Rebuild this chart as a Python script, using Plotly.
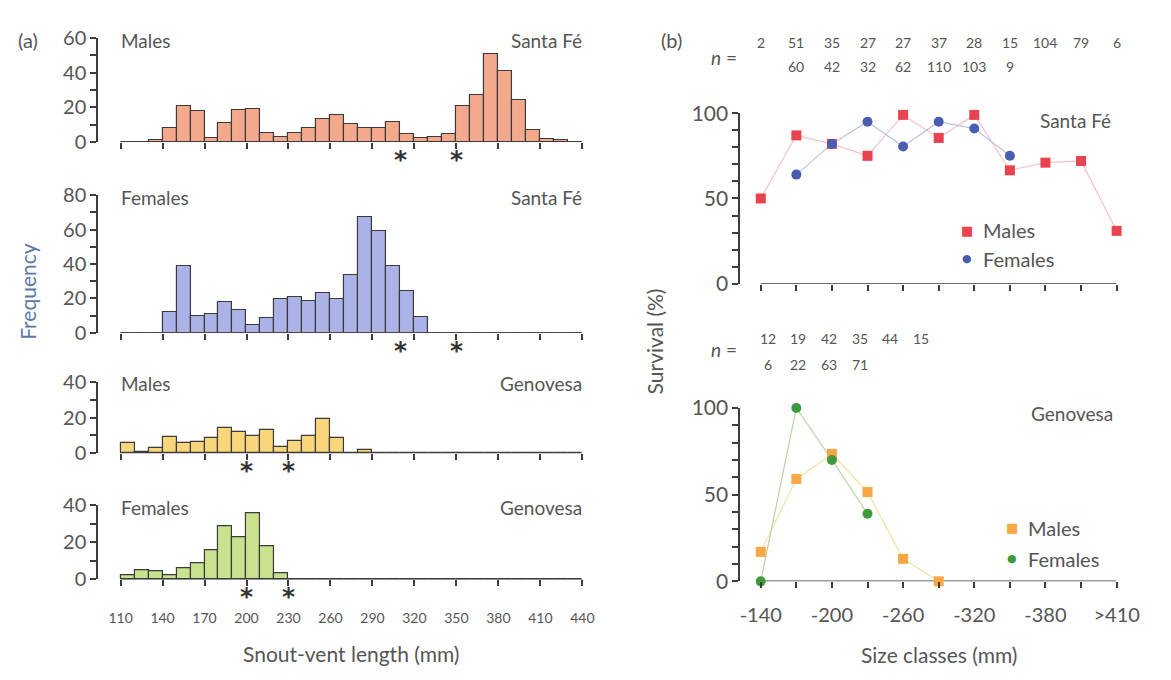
import plotly.graph_objects as go

W, H = 1171, 680

# ---------------- data ----------------
bin_starts = list(range(110, 440, 10))  # 10-mm bins, 110..430

males_sf = [0, 0, 1, 8, 21, 18, 2.5, 11, 18.5, 19, 5, 3, 5, 8, 13, 15.5, 10.5, 8, 8,
            11.5, 4.5, 2.5, 3, 4.5, 21, 27, 51, 41, 24.5, 7, 2, 1, 0]
females_sf = [0, 0, 0, 12, 39, 10, 11, 18, 13, 4.5, 8.5, 19.5, 20.5, 18.5, 23, 19.5,
              33.5, 67, 59, 39, 24.5, 9, 0, 0, 0, 0, 0, 0, 0, 0, 0, 0, 0]
males_gen = [6, 1, 3, 9, 6, 6.5, 8.5, 14, 12, 9.5, 13, 3.5, 7, 9.5, 19.5, 8.5, 0, 2,
             0, 0, 0, 0, 0, 0, 0, 0, 0, 0, 0, 0, 0, 0, 0]
females_gen = [2.5, 5, 4.5, 2, 6, 8.5, 16, 28.5, 22.5, 35.5, 18, 3.5, 0, 0, 0, 0, 0, 0,
               0, 0, 0, 0, 0, 0, 0, 0, 0, 0, 0, 0, 0, 0, 0]

svl_ticks = [110, 140, 170, 200, 230, 260, 290, 320, 350, 380, 410, 440]
asterisks_sf = [310, 350]
asterisks_gen = [200, 230]

size_classes = ['-140', '-170', '-200', '-230', '-260', '-290', '-320', '-350',
                '-380', '-410', '>410']
surv_sf_males = [50, 87, 82, 75, 99, 85.5, 99, 66.5, 71, 72, 31]
surv_sf_females = [None, 64, 82, 95, 80.5, 95, 91, 75, None, None, None]
surv_gen_males = [17, 59, 73.5, 51.5, 13, 0, None, None, None, None, None]
surv_gen_females = [0, 100, 70, 39, None, None, None, None, None, None, None]

n_sf_males = [2, 51, 35, 27, 27, 37, 28, 15, 104, 79, 6]
n_sf_females = [None, 60, 42, 32, 62, 110, 103, 9, None, None, None]
n_gen_males = [12, 19, 42, 35, 44, 15]
n_gen_females = [6, 22, 63, 71]

# ---------------- helpers ----------------
def px(x):
    return x / W

def py(y):
    return 1 - y / H

FONT = "Lato"
TXT = "#555555"
AX = "#3c3c3c"

fig = go.Figure()
annotations = []

def txt(x, y, s, size=19, anchor="left", color=TXT, angle=0, xref="paper",
        yref="paper", family=FONT):
    annotations.append(dict(x=px(x) if xref == "paper" else x,
                            y=py(y) if yref == "paper" else y,
                            xref=xref, yref=yref, text=s,
                            showarrow=False, xanchor=anchor, yanchor="middle",
                            textangle=angle,
                            font=dict(family=family, size=size, color=color)))

centers = [b + 5 for b in bin_starts]
hist_specs = [
    # data, fill, y-top px, y-base px, ymax
    (males_sf, "#f5a98c", 25, 133, 60),
    (females_sf, "#aab2e8", 188, 331, 80),
    (males_gen, "#f9d57c", 382, 456, 40),
    (females_gen, "#c9e28e", 510, 587, 40),
]

mm_left_px, mm_right_px = 123, 594
px_per_mm = (mm_right_px - mm_left_px) / 330.0
yaxis_px = 100
x_lo = 110 - (mm_left_px - yaxis_px) / px_per_mm

layout_axes = {}
for i, (vals, col, ytop, ybase, ymax) in enumerate(hist_specs, start=1):
    xa = "x" if i == 1 else f"x{i}"
    ya = "y" if i == 1 else f"y{i}"
    fig.add_trace(go.Bar(
        x=centers, y=vals, width=10, xaxis=xa, yaxis=ya,
        marker=dict(color=col, line=dict(color="#3a3a3a", width=1.2)),
        showlegend=False,
    ))
    last = (i == 4)
    layout_axes[f"xaxis{'' if i == 1 else i}"] = dict(
        domain=[px(yaxis_px), px(mm_right_px)], range=[x_lo, 440],
        anchor=ya, showgrid=False, zeroline=False, showline=False,
        tickmode="array", tickvals=svl_ticks,
        ticktext=[str(t) for t in svl_ticks],
        showticklabels=last, ticks="outside", ticklen=6, tickwidth=1.5,
        tickcolor=AX, tickfont=dict(family=FONT, size=14, color=TXT),
        ticklabelstandoff=20, fixedrange=True,
    )
    yt = list(range(0, ymax + 1, 10))
    layout_axes[f"yaxis{'' if i == 1 else i}"] = dict(
        domain=[py(ybase), py(ytop)], range=[0, ymax], anchor=xa,
        showgrid=False, zeroline=False, showline=True, linecolor=AX,
        linewidth=1.5, ticks="outside", ticklen=6, tickwidth=1.5, tickcolor=AX,
        tickmode="array", tickvals=yt,
        ticktext=[str(v) if v % 20 == 0 else "" for v in yt],
        tickfont=dict(family=FONT, size=20, color=TXT), fixedrange=True,
    )
    fig.add_shape(type="line", xref=xa, yref=ya, x0=110, x1=440, y0=0, y1=0,
                  line=dict(color=AX, width=1.5), layer="above")

    # asterisks below the baseline
    for xv in (asterisks_sf if i <= 2 else asterisks_gen):
        annotations.append(dict(x=xv, y=py(ybase + 18), xref=xa, yref="paper",
                                text="<b>*</b>", showarrow=False,
                                font=dict(family="DejaVu Sans", size=25, color="#333"),
                                xanchor="center", yanchor="middle"))

# ---------------- right panels ----------------
cls_idx = list(range(len(size_classes)))
c0_px, c_last_px = 776, 1139
px_per_cls = (c_last_px - c0_px) / (len(size_classes) - 1)
yax_right_px = 755

def cls_px(k):
    return c0_px + k * px_per_cls

right_specs = [
    (5, surv_sf_males, surv_sf_females, "#e8434f", "#4a5cb0", "#f4c2c6", "#bcc0e4",
     103, 280, False),
    (6, surv_gen_males, surv_gen_females, "#f7a743", "#3e9a3c", "#f2e2a2", "#b5d7a0",
     409, 589, True),
]
for i, m, f, mc, fc, ml, fl, ytop, ybase, labels in right_specs:
    xa, ya = f"x{i}", f"y{i}"
    fig.add_trace(go.Scatter(x=cls_idx, y=m, mode="lines", xaxis=xa, yaxis=ya,
                             line=dict(color=ml, width=1.2), connectgaps=False,
                             showlegend=False, cliponaxis=False))
    fig.add_trace(go.Scatter(x=cls_idx, y=f, mode="lines", xaxis=xa, yaxis=ya,
                             line=dict(color=fl, width=1.2), connectgaps=False,
                             showlegend=False, cliponaxis=False))
    fig.add_trace(go.Scatter(x=cls_idx, y=m, mode="markers", xaxis=xa, yaxis=ya,
                             marker=dict(symbol="square", size=10, color=mc),
                             showlegend=False, cliponaxis=False))
    fig.add_trace(go.Scatter(x=cls_idx, y=f, mode="markers", xaxis=xa, yaxis=ya,
                             marker=dict(symbol="circle", size=10, color=fc),
                             showlegend=False, cliponaxis=False))
    lo = -(c0_px - yax_right_px) / px_per_cls
    layout_axes[f"xaxis{i}"] = dict(
        domain=[px(yax_right_px), px(c_last_px)], range=[lo, len(size_classes) - 1],
        anchor=ya, showgrid=False, zeroline=False, showline=False,
        tickmode="array", tickvals=cls_idx,
        ticktext=[c if k % 2 == 0 else "" for k, c in enumerate(size_classes)],
        showticklabels=labels, ticks="outside", ticklen=6, tickwidth=1.5,
        tickcolor=AX, tickfont=dict(family=FONT, size=20, color=TXT),
        ticklabelstandoff=10, fixedrange=True,
    )
    yt = list(range(0, 101, 10))
    layout_axes[f"yaxis{i}"] = dict(
        domain=[py(ybase), py(ytop)], range=[0, 100], anchor=xa,
        showgrid=False, zeroline=False, showline=True, linecolor=AX,
        linewidth=1.5, ticks="outside", ticklen=6, tickwidth=1.5, tickcolor=AX,
        tickmode="array", tickvals=yt,
        ticktext=[str(v) if v % 50 == 0 else "" for v in yt],
        tickfont=dict(family=FONT, size=21, color=TXT), fixedrange=True,
    )
    fig.add_shape(type="line", xref=xa, yref=ya, x0=0, x1=len(size_classes) - 1,
                  y0=0, y1=0, line=dict(color=AX, width=1.5), layer="below")

# n rows, Santa Fé (aligned on the size classes)
for k, v in enumerate(n_sf_males):
    txt(cls_px(k), 30, str(v), 14, anchor="center")
for k, v in enumerate(n_sf_females):
    if v is not None:
        txt(cls_px(k), 55, str(v), 14, anchor="center")
txt(738, 45, "<i>n</i> =", 19, anchor="center")

# n rows, Genovesa (slightly compressed spacing in the original)
gen_step = 0.86
for k, v in enumerate(n_gen_males):
    txt(cls_px(0.2 + k * gen_step), 337, str(v), 14, anchor="center")
for k, v in enumerate(n_gen_females):
    txt(cls_px(0.2 + k * gen_step), 364, str(v), 14, anchor="center")
txt(738, 348, "<i>n</i> =", 19, anchor="center")

# panel labels
txt(16, 27, "(a)", 20)
txt(672, 27, "(b)", 20)
txt(121, 27, "Males")
txt(596, 27, "Santa Fé", anchor="right")
txt(121, 190, "Females")
txt(596, 190, "Santa Fé", anchor="right")
txt(121, 384, "Males")
txt(596, 384, "Genovesa", anchor="right")
txt(121, 512, "Females")
txt(596, 512, "Genovesa", anchor="right")
txt(28, 288, "Frequency", 21, anchor="center", color="#5a78a8", angle=-90)
txt(358, 664, "Snout-vent length (mm)", 21, anchor="center")

txt(9.9, 96, "Santa Fé", 19, anchor="right", xref="x5", yref="y5")
txt(9.95, 97, "Genovesa", 19, anchor="right", xref="x6", yref="y6")
txt(668, 340, "Survival (%)", 21, anchor="center", angle=-90)
txt(958, 665, "Size classes (mm)", 21, anchor="center")

# legends (placed in the panels' own coordinates)
def legend_item(xa, ya, xm, yv, glyph, gcolor, label, gsize):
    txt(xm, yv, glyph, gsize, anchor="center", color=gcolor, xref=xa, yref=ya,
        family="DejaVu Sans")
    txt(xm + 0.4, yv, label, 20, xref=xa, yref=ya)

legend_item("x5", "y5", 5.8, 31.5, "■", "#e8434f", "Males", 13)
legend_item("x5", "y5", 5.8, 14.5, "●", "#4a5cb0", "Females", 11)
legend_item("x6", "y6", 7.05, 31, "■", "#f7a743", "Males", 13)
legend_item("x6", "y6", 7.05, 13, "●", "#3e9a3c", "Females", 11)

fig.update_layout(
    width=W, height=H, margin=dict(l=0, r=0, t=0, b=0),
    paper_bgcolor="white", plot_bgcolor="rgba(0,0,0,0)",
    annotations=annotations, bargap=0, showlegend=False,
    **layout_axes,
)

fig.write_html("out.html", config={"displayModeBar": False})
